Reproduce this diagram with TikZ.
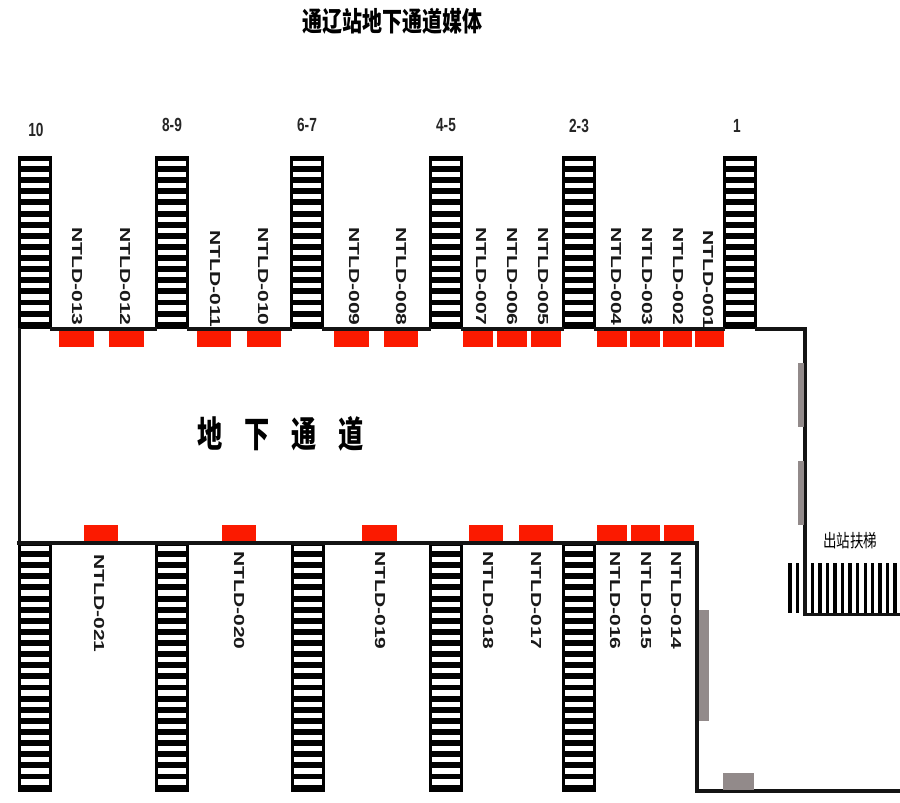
\documentclass[tikz,border=0pt]{standalone}
\usepackage{fontspec}
\setmainfont{Liberation Sans}
\newfontfamily\cjk{Noto Sans CJK SC}
\definecolor{mediared}{HTML}{FB1A00}
\definecolor{wallgray}{HTML}{928A8A}
\definecolor{wallblack}{HTML}{141414}
\tikzset{
  wall/.style={draw=wallblack,line width=3.6pt,line cap=rect,line join=miter},
  media/.style={fill=mediared,draw=none},
  grayblock/.style={fill=wallgray,draw=none},
  codelabel/.style={rotate=-90,anchor=west,inner sep=0pt,xscale=1.45,font=\bfseries\fontsize{14.5}{14.5}\selectfont,text=black!90},
  doorlabel/.style={inner sep=0pt,xscale=.72,font=\bfseries\fontsize{19}{19}\selectfont,text=black!85},
}
% x, top of flight, height, centre of the first white rung, number of rungs
\newcommand{\stairflight}[5]{%
  \fill[black] (#1,#2) rectangle ++(34,#3);
  \foreach \k in {1,...,#5}{
    \fill[white] (#1+2.8,#4+11.12*\k-11.12-2.6) rectangle ++(28.4,5.2);
  }%
}
\begin{document}
\begin{tikzpicture}[x=1pt,y=-1pt]
\useasboundingbox[fill=white] (0,0) rectangle (900,803);

% upper stairs
\foreach \x in {18,155,290,429,562,723}{\stairflight{\x}{156}{173}{163.5}{15}}
% lower stairs
\foreach \x in {18,155,291,429,562}{\stairflight{\x}{543}{249}{548.5}{22}}

% walls
\draw[wall] (52,329) -- (155,329);
\draw[wall] (189,329) -- (290,329);
\draw[wall] (324,329) -- (429,329);
\draw[wall] (463,329) -- (562,329);
\draw[wall] (596,329) -- (723,329);
\draw[wall] (757,329) -- (805,329) -- (805,614.5) -- (900,614.5);
\draw[wall,line width=2.8pt] (19.3,329) -- (19.3,543);
\draw[wall] (19,543) -- (697,543) -- (697,791) -- (900,791);

% media on upper wall
\foreach \a/\b in {59/94,109/144,197/231,247/281,334/369,384/418,463/493,497/527,531/561,597/627,630/660,663/692,695/724}{
  \fill[media] (\a,331) rectangle (\b,347);
}
% media on lower wall
\foreach \a/\b in {84/118,222/256,362/397,469/503,519/553,597/627,631/660,664/694}{
  \fill[media] (\a,525) rectangle (\b,541);
}

% gray blocks
\fill[grayblock] (798,363) rectangle (803.5,427);
\fill[grayblock] (798,461) rectangle (803.5,525);
\fill[grayblock] (698.5,610) rectangle (709,721);
\fill[grayblock] (723,773) rectangle (754,789.5);

% exit escalator
\foreach \x in {790,797.7,812.3,820,827.7,835,842.7,850,857.7,865.3,872.7,880,887.3,895}{
  \fill[black] (\x-1.7,563) rectangle (\x+1.7,613);
}

% titles
\node[inner sep=0pt,xscale=.74,font=\cjk\bfseries\fontsize{27}{27}\selectfont] (title) at (392.5,21.5) {通辽站地下通道媒体};
\node[inner sep=0pt,xscale=.7,font=\cjk\bfseries\fontsize{36}{36}\selectfont] (hall) at (280.5,433.5) {地\hspace{30.9pt}下\hspace{30.9pt}通\hspace{30.9pt}道};
\node[inner sep=0pt,xscale=.75,font=\cjk\fontsize{18}{18}\selectfont] (exit) at (850,541) {出站扶梯};

% platform numbers
\node[doorlabel] (d10) at (36,130) {10};
\node[doorlabel] (d89) at (172,125) {8-9};
\node[doorlabel] (d67) at (307,125) {6-7};
\node[doorlabel] (d45) at (446,125) {4-5};
\node[doorlabel] (d23) at (579,126) {2-3};
\node[doorlabel] (d1) at (737,126) {1};

% codes, upper
\foreach \n/\x/\y in {013/77/227,012/125/227,011/215/230,010/263/227,009/354/227,008/401/227,007/481/227,006/512/227,005/543/227,004/616/227,003/647/227,002/678/227,001/708/230}{
  \node[codelabel] (u\n) at (\x,\y) {NTLD-\n};
}
% codes, lower
\foreach \n/\x/\y in {021/99/554,020/239/551,019/380/551,018/488/551,017/536/551,016/615/551,015/646/551,014/676/551}{
  \node[codelabel] (l\n) at (\x,\y) {NTLD-\n};
}
\end{tikzpicture}
\end{document}
